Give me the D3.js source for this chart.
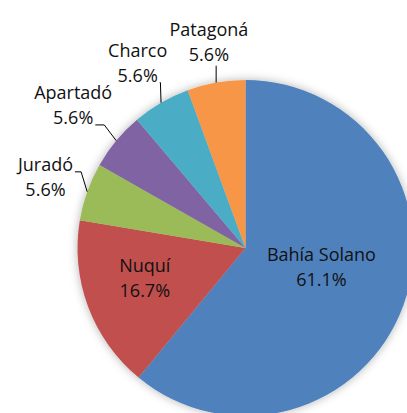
<!DOCTYPE html>
<html>
<head>
<meta charset="utf-8">
<script src="https://cdn.jsdelivr.net/npm/d3@7"></script>
<style>
  html, body { margin: 0; padding: 0; background: #fff; overflow: hidden; }
  text { font-family: "Open Sans", sans-serif; font-size: 18px; fill: #111; }
</style>
</head>
<body>
<div id="chart-area"></div>
<script>
// values
const cities = ["Bahía Solano", "Nuquí", "Juradó", "Apartadó", "Charco", "Patagoná"];
const shares = [61.1, 16.7, 5.6, 5.6, 5.6, 5.6];
const sliceColors = ["#4F81BD", "#C0504D", "#9BBB59", "#8064A2", "#4BACC6", "#F79646"];

let width = 407, height = 413;
let cx = 245.5, cy = 248, radius = 168;
let lineGap = 25;

let svg = d3.select("#chart-area")
    .append("svg")
    .attr("width", width)
    .attr("height", height);

// soft shadow round the pie
let filter = svg.append("defs").append("filter")
    .attr("id", "shadow")
    .attr("x", "-20%").attr("y", "-20%")
    .attr("width", "140%").attr("height", "140%");
filter.append("feDropShadow")
    .attr("dx", 0).attr("dy", 0)
    .attr("stdDeviation", 5)
    .attr("flood-color", "#000")
    .attr("flood-opacity", 0.3);

let g = svg.append("g")
    .attr("transform", "translate(" + cx + "," + cy + ")");

let rows = cities.map((c, i) => ({ city: c, share: shares[i] }));

let color = d3.scaleOrdinal()
    .domain(cities)
    .range(sliceColors);

let pie = d3.pie()
    .sort(null)
    .value(d => d.share);

let arc = d3.arc()
    .innerRadius(0)
    .outerRadius(radius);

let arcs = pie(rows);

g.append("g")
    .attr("filter", "url(#shadow)")
    .selectAll("path")
    .data(arcs)
    .join("path")
    .attr("d", arc)
    .attr("fill", d => color(d.data.city));

let midAngle = d => (d.startAngle + d.endAngle) / 2;
let fmt = d => d.toFixed(1) + "%";

// big slices: label inside
let inside = arcs.filter(d => d.endAngle - d.startAngle > 0.6);
inside.forEach(d => {
    let a = midAngle(d);
    let rho = (d.endAngle - d.startAngle > Math.PI ? 0.48 : 0.64) * radius;
    let x = rho * Math.sin(a), y = -rho * Math.cos(a) - 8;
    let t = g.append("text").attr("text-anchor", "middle");
    t.append("tspan").attr("x", x).attr("y", y - 6).text(d.data.city);
    t.append("tspan").attr("x", x).attr("y", y - 6 + lineGap).text(fmt(d.data.share));
});

// small slices: label outside with a leader line
let outside = arcs.filter(d => d.endAngle - d.startAngle <= 0.6);
outside.forEach(d => {
    let a = midAngle(d);
    let s = Math.sin(a), c = Math.cos(a);
    let t = g.append("text").attr("text-anchor", "middle");
    let l1 = t.append("tspan").text(d.data.city);
    let l2 = t.append("tspan").text(fmt(d.data.share));
    let w1 = l1.node().getComputedTextLength();
    let w2 = l2.node().getComputedTextLength();
    let halfW = Math.max(w1, w2) / 2, halfH = 25;

    let R = radius + 10 + halfW * Math.abs(s) + halfH * Math.abs(c);
    let lx = R * s, ly = -R * c;
    let b1 = ly - 6, b2 = b1 + lineGap;
    l1.attr("x", lx).attr("y", b1);
    l2.attr("x", lx).attr("y", b2);

    // leader: from the rim to the nearest text line
    let px = radius * s, py = -radius * c;
    let below = py > ly + halfH;
    let lineW = below ? w2 : w1;
    let baseY = below ? b2 : b1;
    let pts;
    if (below && px >= lx - lineW / 2 && px <= lx + lineW / 2) {
        pts = [[px, py], [px, baseY + 5]];
    } else {
        let dir = px < lx ? -1 : 1;
        let ax = lx + dir * (lineW / 2 + 2);
        let tail = Math.min(9, Math.abs(px - ax) / 2);
        pts = [[px, py], [ax + dir * tail, baseY + 1], [ax, baseY + 1]];
    }
    g.append("path")
        .attr("d", d3.line()(pts))
        .attr("fill", "none")
        .attr("stroke", "#000")
        .attr("stroke-width", 1);
});
</script>
</body>
</html>
